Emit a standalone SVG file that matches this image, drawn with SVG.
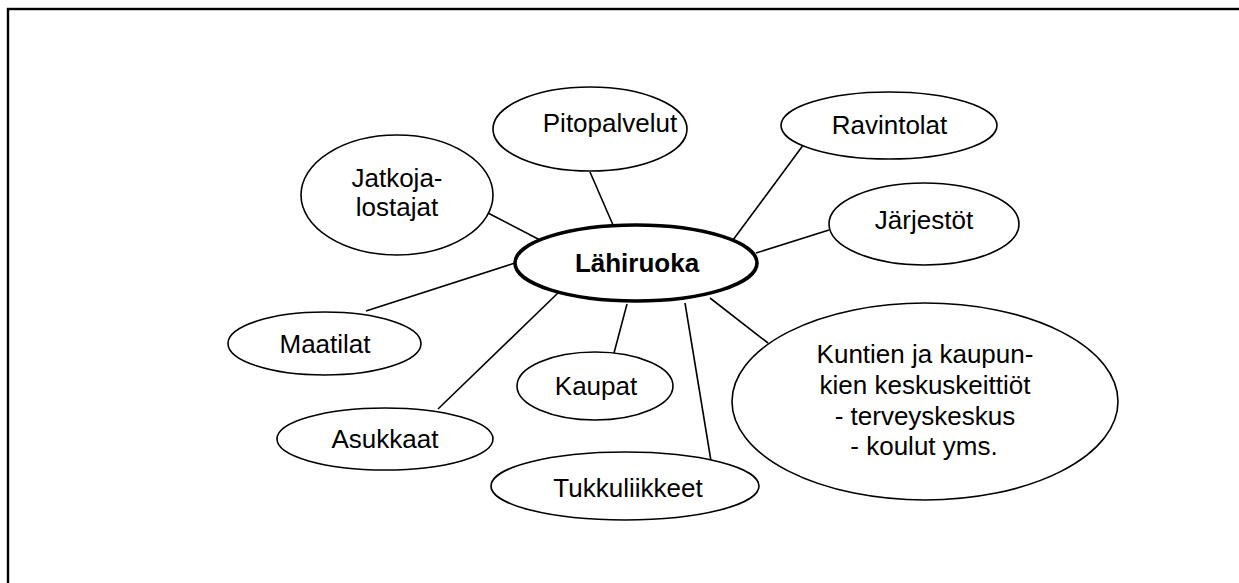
<svg xmlns="http://www.w3.org/2000/svg" width="1239" height="583" viewBox="0 0 1239 583">
<style>
.n{fill:#fff;stroke:#000;stroke-width:1.6}
.c{fill:#fff;stroke:#000;stroke-width:3.6}
.t{font-family:"Liberation Sans",Arial,sans-serif;font-size:26px;fill:#000;text-anchor:middle}
.b{font-weight:bold}
#connectors line{stroke:#000;stroke-width:1.6}
</style>
<rect x="0" y="0" width="1239" height="583" fill="#fff"/>
<rect x="8" y="9" width="1300" height="700" fill="none" stroke="#000" stroke-width="2.4"/>
<g id="connectors">
<line x1="488" y1="213" x2="540" y2="240"/>
<line x1="590" y1="172" x2="613" y2="225"/>
<line x1="804" y1="144" x2="733" y2="240"/>
<line x1="829" y1="230" x2="756" y2="253"/>
<line x1="366" y1="311" x2="515" y2="263"/>
<line x1="438" y1="409" x2="560" y2="291"/>
<line x1="614" y1="353" x2="627" y2="304"/>
<line x1="685" y1="303" x2="711" y2="461"/>
<line x1="710" y1="298" x2="768" y2="343"/>
</g>
<g id="lahiruoka">
<ellipse class="c" cx="636" cy="263" rx="121" ry="38"/>
<text class="t b" x="637" y="272">Lähiruoka</text>
</g>
<g id="jatkojalostajat">
<ellipse class="n" cx="397" cy="195" rx="96" ry="60"/>
<text class="t" x="397" y="187">Jatkoja-</text>
<text class="t" x="397" y="216">lostajat</text>
</g>
<g id="pitopalvelut">
<ellipse class="n" cx="590" cy="129" rx="97" ry="42"/>
<text class="t" x="610" y="132">Pitopalvelut</text>
</g>
<g id="ravintolat">
<ellipse class="n" cx="889" cy="125.5" rx="108" ry="33.5"/>
<text class="t" x="889.5" y="134">Ravintolat</text>
</g>
<g id="jarjestot">
<ellipse class="n" cx="924" cy="224" rx="95" ry="41"/>
<text class="t" x="924" y="229">Järjestöt</text>
</g>
<g id="maatilat">
<ellipse class="n" cx="324.5" cy="343.5" rx="96.5" ry="31.5"/>
<text class="t" x="325" y="353">Maatilat</text>
</g>
<g id="asukkaat">
<ellipse class="n" cx="385" cy="439" rx="108" ry="31"/>
<text class="t" x="385" y="448">Asukkaat</text>
</g>
<g id="kaupat">
<ellipse class="n" cx="595" cy="386" rx="78" ry="34"/>
<text class="t" x="596" y="395">Kaupat</text>
</g>
<g id="tukkuliikkeet">
<ellipse class="n" cx="625" cy="486" rx="134" ry="34"/>
<text class="t" x="628" y="497">Tukkuliikkeet</text>
</g>
<g id="kuntien">
<ellipse class="n" cx="925" cy="401.5" rx="193" ry="98.5"/>
<text class="t" x="925" y="363">Kuntien ja kaupun-</text>
<text class="t" x="925" y="394">kien keskuskeittiöt</text>
<text class="t" x="925" y="425">- terveyskeskus</text>
<text class="t" x="924" y="455">- koulut yms.</text>
</g>
</svg>
